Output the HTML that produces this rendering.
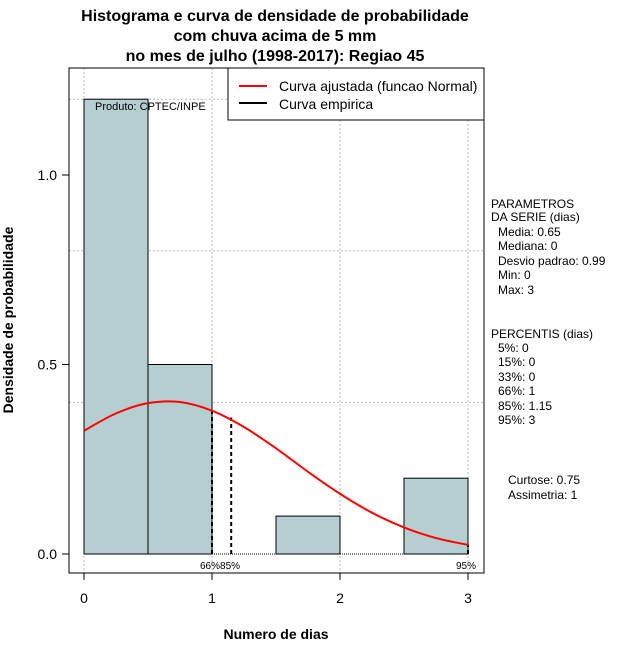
<!DOCTYPE html>
<html><head><meta charset="utf-8"><style>
body{margin:0;background:#fff;}
svg text{font-family:"Liberation Sans",sans-serif;}
</style></head><body>
<svg id="c" width="640" height="660" xmlns="http://www.w3.org/2000/svg">
<text x="275" y="21" text-anchor="middle" font-size="16" font-weight="bold">Histograma e curva de densidade de probabilidade</text>
<text x="275" y="41" text-anchor="middle" font-size="16" font-weight="bold">com chuva acima de 5 mm</text>
<text x="275" y="61" text-anchor="middle" font-size="16" font-weight="bold">no mes de julho (1998-2017): Regiao 45</text>
<g id="grid"></g>
<g id="bars"></g>
<g id="marks"></g>
<rect x="69" y="68" width="415" height="505" fill="none" stroke="#000"/>
<text x="95" y="110" font-size="11">Produto: CPTEC/INPE</text>
<g>
<rect x="228" y="68" width="256" height="52" fill="#fff" stroke="#000"/>
<line x1="239" y1="86" x2="267" y2="86" stroke="red" stroke-width="2"/>
<text x="279" y="91" font-size="14">Curva ajustada (funcao Normal)</text>
<line x1="239" y1="103" x2="267" y2="103" stroke="#000" stroke-width="2"/>
<text x="279" y="109" font-size="14">Curva empirica</text>
</g>
<g id="axes"></g>
<text x="276" y="639" text-anchor="middle" font-size="14" font-weight="bold">Numero de dias</text>
<text transform="translate(13,320) rotate(-90)" text-anchor="middle" font-size="14" font-weight="bold">Densidade de probabilidade</text>
<g font-size="12">
<text x="491" y="208">PARAMETROS</text>
<text x="491" y="221">DA SERIE (dias)</text>
<text x="498" y="236">Media: 0.65</text>
<text x="498" y="250">Mediana: 0</text>
<text x="498" y="265">Desvio padrao: 0.99</text>
<text x="498" y="279">Min: 0</text>
<text x="498" y="294">Max: 3</text>
<text x="491" y="338">PERCENTIS (dias)</text>
<text x="498" y="352">5%: 0</text>
<text x="498" y="366">15%: 0</text>
<text x="498" y="381">33%: 0</text>
<text x="498" y="395">66%: 1</text>
<text x="498" y="410">85%: 1.15</text>
<text x="498" y="424">95%: 3</text>
<text x="508" y="484">Curtose: 0.75</text>
<text x="508" y="499">Assimetria: 1</text>
</g>
</svg>
<script>
const binStarts=[0,0.5,1,1.5,2,2.5];
const binDensity=[1.2,0.5,0,0.1,0,0.2];
const curveX=[0,0.25,0.5,0.75,1,1.25,1.5,1.75,2,2.25,2.5,2.75,3];
const curveY=[0.325,0.371,0.398,0.401,0.378,0.335,0.279,0.217,0.159,0.109,0.070,0.042,0.024];
const pctX=[1,1.15,3];
const pctY=[0.378,0.36,0.024];
const pctLabels=["66%","85%","95%"];
const xTicks=[0,1,2,3];
const yTicks=[0,0.5,1];
const yTickLabels=["0.0","0.5","1.0"];
const gridY=[0.4,0.8,1.2];
const NS="http://www.w3.org/2000/svg";
const X=v=>84+v*128, Y=v=>554-v*379;
function mk(p,t,a){const e=document.createElementNS(NS,t);for(const k in a)e.setAttribute(k,a[k]);document.getElementById(p).appendChild(e);return e;}
xTicks.forEach(v=>{const l=mk('grid','line',{x1:X(v),x2:X(v),y1:68,y2:573,stroke:'#bbb','stroke-dasharray':'2,2'});

});
gridY.forEach(v=>{const l=mk('grid','line',{x1:69,x2:484,y1:Y(v),y2:Y(v),stroke:'#bbb','stroke-dasharray':'2,2'});

});
binStarts.forEach((s,i)=>{if(binDensity[i]<=0)return;
const r=mk('bars','rect',{x:X(s),y:Y(binDensity[i]),width:64,height:Y(0)-Y(binDensity[i]),fill:'#b5cfd0',stroke:'#000','stroke-width':1});

});
const base=mk('bars','line',{x1:X(0),x2:X(3),y1:Y(0),y2:Y(0),stroke:'#000','stroke-dasharray':'1,1'});


pctX.forEach((v,i)=>{const l=mk('marks','line',{x1:X(v),x2:X(v),y1:Y(0),y2:Y(pctY[i]),stroke:'#000','stroke-width':2,'stroke-dasharray':'4,3'});

});
const pl=mk('marks','text',{x:X(1)-12,y:569,'font-size':10});pl.textContent=pctLabels[0]+pctLabels[1];


const p3=mk('marks','text',{x:X(3)-12,y:569,'font-size':10});p3.textContent=pctLabels[2];


const P=curveX.map((x,i)=>[X(x),Y(curveY[i])]);
let d='M'+P[0][0]+','+P[0][1];
for(let i=0;i<P.length-1;i++){const p0=P[Math.max(i-1,0)],p1=P[i],p2=P[i+1],p3b=P[Math.min(i+2,P.length-1)];
d+=' C'+(p1[0]+(p2[0]-p0[0])/6)+','+(p1[1]+(p2[1]-p0[1])/6)+' '+(p2[0]-(p3b[0]-p1[0])/6)+','+(p2[1]-(p3b[1]-p1[1])/6)+' '+p2[0]+','+p2[1];}
const c=mk('marks','path',{d:d,fill:'none',stroke:'red','stroke-width':2});


xTicks.forEach(v=>{mk('axes','line',{x1:X(v),x2:X(v),y1:573,y2:580,stroke:'#000'});
const t=mk('axes','text',{x:X(v),y:603,'text-anchor':'middle','font-size':14});t.textContent=v;

});
yTicks.forEach((v,i)=>{mk('axes','line',{x1:62,x2:69,y1:Y(v),y2:Y(v),stroke:'#000'});
const t=mk('axes','text',{x:57,y:Y(v)+5,'text-anchor':'end','font-size':14});t.textContent=yTickLabels[i];

});
</script>
</body></html>
